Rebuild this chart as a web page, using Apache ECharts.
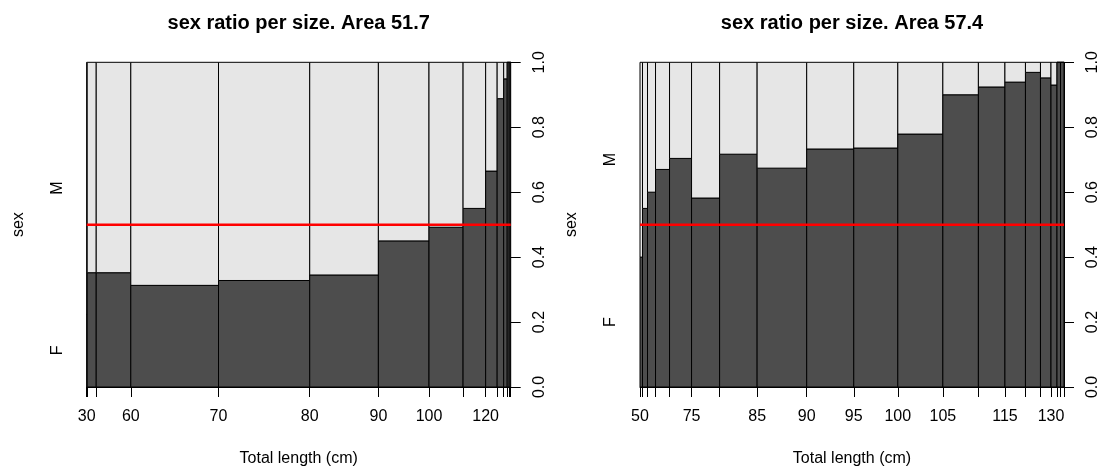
<!DOCTYPE html>
<html>
<head>
<meta charset="utf-8">
<script src="https://cdn.jsdelivr.net/npm/echarts@6/dist/echarts.min.js"></script>
<style>
  html, body { margin: 0; padding: 0; background: #fff; }
  #chart { width: 1106px; height: 472px; }
</style>
</head>
<body>
<div id="chart"></div>
<script>
// spineplot: bar width = number of fish in the size class, dark part = share of F
var leftBreaks = [30, 40, 50, 60, 70, 80, 90, 100, 110, 120, 130, 140, 150, 160, 170];
var leftCounts = [1, 18, 69, 175, 182, 137, 101, 68, 45, 23, 13, 7, 4, 3];
var leftFemale = [0.225, 0.352, 0.352, 0.313, 0.328, 0.345, 0.45, 0.492, 0.55, 0.665, 0.888, 0.949, 1.0, 1.0];
var leftShown = [30, 60, 70, 80, 90, 100, 120];

var rightBreaks = [50, 55, 60, 65, 70, 75, 80, 85, 90, 95, 100, 105, 110, 115, 120, 125, 130, 135, 140, 145];
var rightCounts = [5, 10, 16, 28, 44, 56, 75, 99, 94, 88, 90, 71, 53, 41, 30, 21, 12, 7, 7];
var rightFemale = [0.40, 0.55, 0.60, 0.67, 0.704, 0.582, 0.717, 0.674, 0.733, 0.736, 0.779, 0.90, 0.924, 0.939, 0.969, 0.952, 0.930, 1.0, 1.0];
var rightShown = [50, 75, 85, 90, 95, 100, 105, 115, 130];

var yTicks = [0, 0.2, 0.4, 0.6, 0.8, 1.0];
var sexLevels = ['F', 'M'];

var FONT = "'Liberation Sans', Arial, sans-serif";

function cumul(counts) {
    var c = [0];
    for (var i = 0; i < counts.length; i++) c.push(c[i] + counts[i]);
    return c;
}

var myChart = echarts.init(document.getElementById('chart'));

var panels = [
    {breaks: leftBreaks, counts: leftCounts, female: leftFemale, shown: leftShown, left: 86.7, title: 'sex ratio per size. Area 51.7'},
    {breaks: rightBreaks, counts: rightCounts, female: rightFemale, shown: rightShown, left: 640, title: 'sex ratio per size. Area 57.4'}
];

var option = {
    animation: false,
    backgroundColor: '#fff',
    title: [],
    grid: [],
    xAxis: [],
    yAxis: [],
    series: []
};

panels.forEach(function (p, k) {
    var cum = cumul(p.counts);
    var total = cum[cum.length - 1];
    var labelPos = p.shown.map(function (b) { return cum[p.breaks.indexOf(b)]; });
    var f0 = p.female[0];

    option.title.push({
        text: p.title,
        left: p.left + 212,
        top: 13,
        padding: 0,
        textAlign: 'center',
        textStyle: {fontFamily: FONT, fontSize: 20, fontWeight: 'bold', color: '#000'}
    });
    option.grid.push({left: p.left, top: 62.3, width: 424, height: 327});

    option.xAxis.push({
        gridIndex: k,
        type: 'value',
        min: 0,
        max: total,
        name: 'Total length (cm)',
        nameLocation: 'middle',
        nameGap: 64,
        nameTextStyle: {fontFamily: FONT, fontSize: 16, color: '#000'},
        splitLine: {show: false},
        axisLine: {show: true, lineStyle: {color: '#000', width: 1}},
        axisTick: {show: true, length: 10, customValues: cum, lineStyle: {color: '#000'}},
        axisLabel: {
            customValues: labelPos,
            margin: 22,
            fontFamily: FONT, fontSize: 16, color: '#000',
            formatter: function (v) {
                for (var i = 0; i < cum.length; i++) {
                    if (Math.abs(cum[i] - v) < 1e-6) return String(p.breaks[i]);
                }
                return '';
            }
        }
    });

    // left: sex levels at the middle of the first bar's segments
    option.yAxis.push({
        gridIndex: k,
        type: 'value',
        min: 0,
        max: 1,
        position: 'left',
        name: 'sex',
        nameLocation: 'middle',
        nameGap: 60,
        nameTextStyle: {fontFamily: FONT, fontSize: 16, color: '#000'},
        splitLine: {show: false},
        axisLine: {show: false},
        axisTick: {show: false},
        axisLabel: {
            customValues: [f0 / 2, (f0 + 1) / 2],
            rotate: 90,
            margin: 21,
            fontFamily: FONT, fontSize: 16, color: '#000',
            formatter: function (v) { return v < f0 ? sexLevels[0] : sexLevels[1]; }
        }
    });
    // right: proportion axis
    option.yAxis.push({
        gridIndex: k,
        type: 'value',
        min: 0,
        max: 1,
        position: 'right',
        splitLine: {show: false},
        axisLine: {show: true, lineStyle: {color: '#000'}},
        axisTick: {show: true, length: 10, customValues: yTicks, lineStyle: {color: '#000'}},
        axisLabel: {
            customValues: yTicks,
            rotate: 90,
            margin: 21,
            fontFamily: FONT, fontSize: 16, color: '#000',
            formatter: function (v) { return v.toFixed(1); }
        }
    });

    var bars = p.counts.map(function (c, i) { return [cum[i], cum[i + 1], p.female[i]]; });

    option.series.push({
        type: 'custom',
        xAxisIndex: k,
        yAxisIndex: 2 * k + 1,
        data: bars,
        renderItem: function (params, api) {
            var a = api.coord([api.value(0), 0]);
            var b = api.coord([api.value(1), api.value(2)]);
            var c = api.coord([api.value(1), 1]);
            var w = b[0] - a[0];
            return {
                type: 'group',
                children: [
                    {type: 'rect', shape: {x: a[0], y: b[1], width: w, height: a[1] - b[1]},
                     style: {fill: '#4d4d4d', stroke: '#000', lineWidth: 1}},
                    {type: 'rect', shape: {x: a[0], y: c[1], width: w, height: b[1] - c[1]},
                     style: {fill: '#e6e6e6', stroke: '#000', lineWidth: 1}}
                ]
            };
        }
    });

    option.series.push({
        type: 'line',
        xAxisIndex: k,
        yAxisIndex: 2 * k + 1,
        data: [[0, 0.5], [total, 0.5]],
        showSymbol: false,
        silent: true,
        lineStyle: {color: '#ff0000', width: 2.5}
    });
});

myChart.setOption(option);
</script>
</body>
</html>
